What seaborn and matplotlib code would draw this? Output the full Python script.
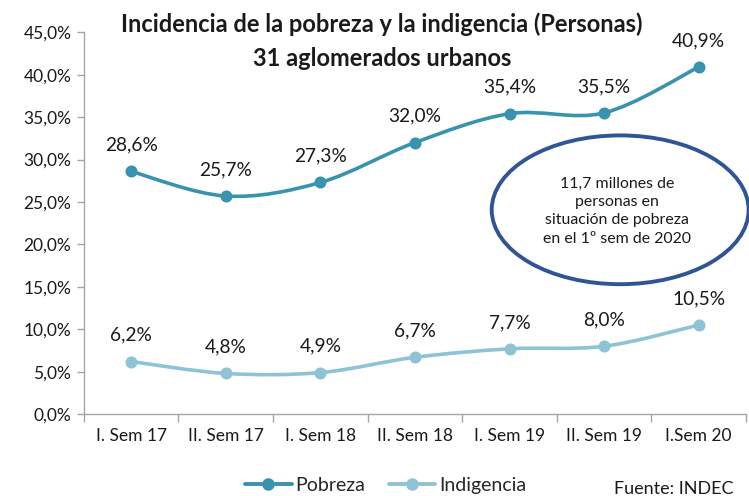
import matplotlib.pyplot as plt
import matplotlib.patches as mpatches
from matplotlib.lines import Line2D
from matplotlib.path import Path
import numpy as np
import pandas as pd
import seaborn as sns

periodos = ["I. Sem 17", "II. Sem 17", "I. Sem 18", "II. Sem 18",
            "I. Sem 19", "II. Sem 19", "I.Sem 20"]
pobreza = [28.6, 25.7, 27.3, 32.0, 35.4, 35.5, 40.9]
indigencia = [6.2, 4.8, 4.9, 6.7, 7.7, 8.0, 10.5]
yticks = [0, 5, 10, 15, 20, 25, 30, 35, 40, 45]

c_pob = "#3A93AE"
c_ind = "#8EC3D6"

df = pd.DataFrame({
    "periodo": periodos * 2,
    "x": list(range(len(periodos))) * 2,
    "valor": pobreza + indigencia,
    "serie": ["Pobreza"] * len(periodos) + ["Indigencia"] * len(periodos),
})

sns.set_theme(style="white")
plt.rcParams["font.family"] = ["Lato", "DejaVu Sans"]

fig = plt.figure(figsize=(7.49, 4.96), dpi=100)
ax = fig.add_axes([0.112, 0.165, 0.884, 0.77])


def smooth_path(xs, ys):
    # Excel-style smoothed line: cubic Bezier between consecutive points
    pts = np.column_stack([xs, ys]).astype(float)
    n = len(pts)
    verts = [pts[0]]
    codes = [Path.MOVETO]
    for i in range(n - 1):
        p0 = pts[i - 1] if i > 0 else pts[i]
        p1 = pts[i]
        p2 = pts[i + 1]
        p3 = pts[i + 2] if i + 2 < n else pts[i + 1]
        c1 = p1 + (p2 - p0) / 6.0
        c2 = p2 - (p3 - p1) / 6.0
        verts += [c1, c2, p2]
        codes += [Path.CURVE4] * 3
    return Path(verts, codes)


for serie, color in [("Pobreza", c_pob), ("Indigencia", c_ind)]:
    d = df[df["serie"] == serie]
    ax.add_patch(mpatches.PathPatch(smooth_path(d["x"], d["valor"]),
                                    facecolor="none", edgecolor=color,
                                    lw=2.6, capstyle="round", zorder=2))
    sns.scatterplot(data=d, x="x", y="valor", color=color, s=75,
                    edgecolor=color, linewidth=0, ax=ax, zorder=3,
                    legend=False)
    for xv, yv in zip(d["x"], d["valor"]):
        ax.annotate(f"{yv:.1f}%".replace(".", ","), (xv, yv),
                    xytext=(0, 19), textcoords="offset points",
                    ha="center", va="center", fontsize=13.8, color="#1a1a1a")

ax.set_xlim(-0.5, len(periodos) - 0.5)
ax.set_ylim(0, 45)
ax.set_yticks(yticks)
ax.set_yticklabels([f"{t:.1f}%".replace(".", ",") for t in yticks],
                   fontsize=12.5, color="#1a1a1a")
ax.set_xticks(range(len(periodos)))
ax.set_xticklabels(periodos, fontsize=12.5, color="#1a1a1a")
ax.set_xticks(np.arange(-0.5, len(periodos), 1), minor=True)
ax.tick_params(axis="x", which="major", length=0, pad=10)
ax.tick_params(axis="x", which="minor", length=6, width=1, color="#A6A6A6",
               direction="out", bottom=True)
ax.tick_params(axis="y", length=5, width=1, color="#A6A6A6", direction="out",
               left=True, pad=4)
ax.set_xlabel(None)
ax.set_ylabel(None)
for s in ["top", "right"]:
    ax.spines[s].set_visible(False)
for s in ["left", "bottom"]:
    ax.spines[s].set_color("#A6A6A6")
    ax.spines[s].set_linewidth(1)

fig.text(0.51, 0.952, "Incidencia de la pobreza y la indigencia (Personas)",
         ha="center", va="center", fontsize=17, fontweight="bold",
         color="#1a1a1a")
fig.text(0.51, 0.883, "31 aglomerados urbanos", ha="center", va="center",
         fontsize=17, fontweight="bold", color="#1a1a1a")

# ovalo con el dato destacado
ell = mpatches.Ellipse((0.828, 0.577), 0.343, 0.3, transform=fig.transFigure,
                       facecolor="white", edgecolor="#2F5597", lw=2.8,
                       zorder=5)
fig.patches.append(ell)
fig.text(0.824, 0.574,
         "11,7 millones de\npersonas en\nsituación de pobreza\nen el 1º sem de 2020",
         ha="center", va="center", fontsize=11.4, linespacing=1.4,
         color="#1a1a1a", zorder=6)

handles = [
    Line2D([0], [0], color=c_pob, lw=2.8, marker="o", markersize=8, label="Pobreza"),
    Line2D([0], [0], color=c_ind, lw=2.8, marker="o", markersize=8, label="Indigencia"),
]
fig.legend(handles=handles, loc="center", bbox_to_anchor=(0.515, 0.022),
           ncol=2, frameon=False, fontsize=14, handlelength=2.4,
           handletextpad=0.2, columnspacing=1.2, borderpad=0)
fig.text(0.979, 0.014, "Fuente: INDEC", ha="right", va="center",
         fontsize=13, color="#1a1a1a")

fig.savefig("out.png", dpi=100)
